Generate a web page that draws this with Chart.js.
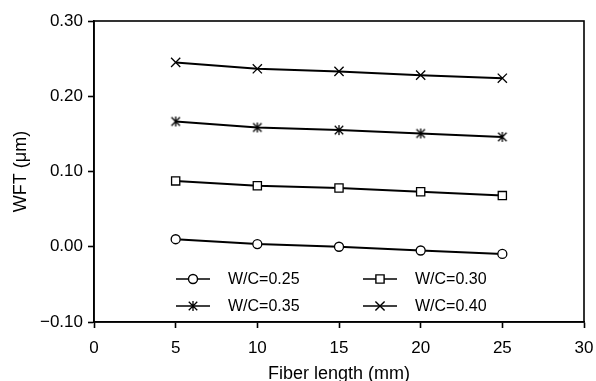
<!DOCTYPE html>
<html>
<head>
<meta charset="utf-8">
<script src="https://cdn.jsdelivr.net/npm/chart.js@4.4.0/dist/chart.umd.min.js"></script>
<style>
  html, body { margin: 0; padding: 0; background: #fff; }
  #wrap { width: 596px; height: 381px; }
</style>
</head>
<body>
<div id="wrap"><canvas id="wftChart"></canvas></div>
<script>
// === Data ===
const fiberLength = [5, 10, 15, 20, 25];
const wc025 = [0.010, 0.0035, 0.000, -0.005, -0.0095];
const wc030 = [0.0875, 0.081, 0.078, 0.073, 0.068];
const wc035 = [0.1665, 0.1585, 0.155, 0.1505, 0.146];
const wc040 = [0.245, 0.2365, 0.233, 0.228, 0.224];
const seriesLabels = ["W/C=0.25", "W/C=0.30", "W/C=0.35", "W/C=0.40"];

const FONT = "'Liberation Sans', Arial, sans-serif";

// six-armed asterisk marker (X with a vertical stroke)
function asteriskMarker(r) {
  const c = document.createElement("canvas");
  const s = Math.ceil(r * 2 + 4);
  c.width = s;
  c.height = s;
  const g = c.getContext("2d");
  const m = s / 2;
  g.strokeStyle = "#000";
  g.lineWidth = 1.3;
  g.beginPath();
  g.moveTo(m - r * 0.85, m - r * 0.85);
  g.lineTo(m + r * 0.85, m + r * 0.85);
  g.moveTo(m + r * 0.85, m - r * 0.85);
  g.lineTo(m - r * 0.85, m + r * 0.85);
  g.moveTo(m, m - r);
  g.lineTo(m, m + r);
  g.stroke();
  return c;
}
const starImg = asteriskMarker(5);

function toPoints(ys) {
  return fiberLength.map((x, i) => ({ x, y: ys[i] }));
}

function makeSet(label, ys, style, radius) {
  return {
    label,
    data: toPoints(ys),
    borderColor: "#000",
    backgroundColor: "#fff",
    borderWidth: 2,
    pointStyle: style,
    pointRadius: radius,
    pointBorderWidth: 1.3,
    pointBorderColor: "#000",
    pointBackgroundColor: "#fff",
    tension: 0,
  };
}

// === Legend drawn inside the plot, two columns ===
const insideLegend = {
  id: "insideLegend",
  afterDatasetsDraw(chart) {
    const { ctx, chartArea } = chart;
    const colX = [chartArea.left + 82, chartArea.left + 269];
    const rowY = [chartArea.bottom - 43, chartArea.bottom - 16];
    ctx.save();
    ctx.font = "16px " + FONT;
    ctx.textBaseline = "middle";
    chart.data.datasets.forEach((ds, i) => {
      const x0 = colX[i % 2];
      const y = rowY[Math.floor(i / 2)];
      ctx.strokeStyle = "#000";
      ctx.lineWidth = 1.4;
      ctx.beginPath();
      ctx.moveTo(x0, y);
      ctx.lineTo(x0 + 34, y);
      ctx.stroke();
      ctx.fillStyle = "#fff";
      Chart.helpers.drawPoint(
        ctx,
        { pointStyle: ds.pointStyle, radius: ds.pointRadius, borderWidth: 1.3, rotation: 0 },
        x0 + 17,
        y
      );
      ctx.fillStyle = "#000";
      ctx.fillText(ds.label, x0 + 52, y + 1);
    });
    ctx.restore();
  },
};

// === Closed frame around the plot ===
const frame = {
  id: "frame",
  afterDraw(chart) {
    const { ctx, chartArea: a } = chart;
    ctx.save();
    ctx.strokeStyle = "#000";
    ctx.lineWidth = 1.6;
    ctx.strokeRect(a.left, a.top, a.right - a.left, a.bottom - a.top);
    ctx.restore();
  },
};

new Chart(document.getElementById("wftChart"), {
  type: "line",
  data: {
    datasets: [
      makeSet(seriesLabels[0], wc025, "circle", 4.5),
      makeSet(seriesLabels[1], wc030, "rect", 5.8),
      makeSet(seriesLabels[2], wc035, starImg, 5),
      makeSet(seriesLabels[3], wc040, "crossRot", 6.5),
    ],
  },
  options: {
    responsive: true,
    maintainAspectRatio: false,
    animation: false,
    devicePixelRatio: 1,
    layout: { padding: { top: 21, right: 12, left: 10, bottom: 0 } },
    plugins: {
      legend: { display: false },
      tooltip: { enabled: false },
    },
    scales: {
      x: {
        type: "linear",
        min: 0,
        max: 30,
        ticks: {
          stepSize: 5,
          color: "#000",
          font: { family: FONT, size: 17 },
          padding: 10,
          maxRotation: 0,
        },
        grid: { drawOnChartArea: false, tickLength: 6, color: "#000", tickWidth: 1.6 },
        border: { color: "#000", width: 1.6 },
        title: {
          display: true,
          text: "Fiber length (mm)",
          color: "#000",
          font: { family: FONT, size: 18 },
          padding: { top: 2, bottom: -4 },
        },
        afterFit(s) {
          s.height = 59;
          s.paddingRight = 0;
          s.paddingLeft = 0;
        },
      },
      y: {
        min: -0.1,
        max: 0.3,
        ticks: {
          stepSize: 0.1,
          color: "#000",
          font: { family: FONT, size: 17 },
          padding: 5,
          callback: (v) => {
            const n = Math.abs(v) < 1e-9 ? 0 : v;
            return n.toFixed(2).replace("-", "\u2212");
          },
        },
        grid: { drawOnChartArea: false, tickLength: 6, color: "#000", tickWidth: 1.6 },
        border: { color: "#000", width: 1.6 },
        title: {
          display: true,
          text: "WFT (\u03bcm)",
          color: "#000",
          font: { family: FONT, size: 18 },
          padding: { top: 0, bottom: 4 },
        },
        afterFit(s) { s.width = 84; },
      },
    },
  },
  plugins: [insideLegend, frame],
});
</script>
</body>
</html>
